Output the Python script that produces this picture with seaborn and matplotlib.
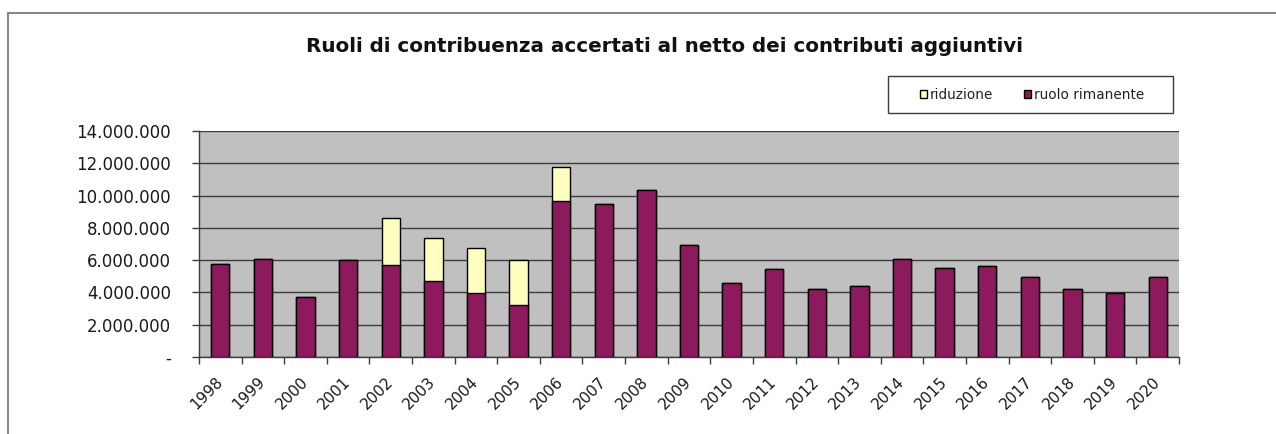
import numpy as np
import pandas as pd
import seaborn as sns
from matplotlib import pyplot as plt
from matplotlib.patches import Patch, Rectangle
from matplotlib.ticker import FuncFormatter, FixedLocator

# dati (euro)
anni = [str(a) for a in range(1998, 2021)]
ruolo_rimanente = [5760000, 6100000, 3690000, 5980000, 5710000, 4710000, 3960000, 3200000,
                   9650000, 9470000, 10370000, 6940000, 4570000, 5450000, 4200000, 4410000,
                   6040000, 5530000, 5630000, 4940000, 4200000, 3960000, 4940000]
riduzione = [0, 0, 0, 0, 2900000, 2680000, 2800000, 2820000,
             2110000, 0, 0, 0, 0, 0, 0, 0,
             0, 0, 0, 0, 0, 0, 0]

titolo = 'Ruoli di contribuenza accertati al netto dei contributi aggiuntivi'
etichette = ['riduzione', 'ruolo rimanente']

col_rid = '#FFFFC2'
col_ruolo = '#8C1A5C'

df = pd.DataFrame({'anno': anni, 'rimanente': ruolo_rimanente, 'riduzione': riduzione})
df['totale'] = df['rimanente'] + df['riduzione']

sns.set_style('white')
plt.rcParams['font.family'] = ['DejaVu Sans']

W, H = 1276, 434
fig = plt.figure(figsize=(W / 100, H / 100), dpi=100)
ax = fig.add_axes([199 / W, 1 - 357 / H, 980 / W, 226 / H])
ax.set_facecolor('#C0C0C0')

# barre sovrapposte: prima il totale, poi il ruolo rimanente
sns.barplot(data=df, x='anno', y='totale', color=col_rid, saturation=1,
            edgecolor='black', linewidth=1, width=0.43, ax=ax, zorder=3)
sns.barplot(data=df, x='anno', y='rimanente', color=col_ruolo, saturation=1,
            edgecolor='black', linewidth=1, width=0.43, ax=ax, zorder=4)

ax.set_ylim(0, 14000000)
ax.set_xlim(-0.5, len(anni) - 0.5)
ax.set_yticks(np.arange(0, 14000001, 2000000))
ax.yaxis.set_major_formatter(FuncFormatter(
    lambda v, p: '-' if v == 0 else f'{int(v):,}'.replace(',', '.')))
ax.grid(axis='y', color='#3c3c3c', linewidth=1.0, zorder=1)
ax.set_axisbelow(True)
ax.set_xlabel('')
ax.set_ylabel('')

for s in ['top', 'right']:
    ax.spines[s].set_visible(False)
for s in ['left', 'bottom']:
    ax.spines[s].set_color('#3c3c3c')
    ax.spines[s].set_linewidth(1.0)

ax.tick_params(axis='y', length=5, width=1, color='#3c3c3c', pad=15,
               labelsize=12, labelcolor='#1a1a1a', left=True)
ax.xaxis.set_minor_locator(FixedLocator(np.arange(-0.5, len(anni), 1)))
ax.tick_params(axis='x', which='minor', length=5, width=1, color='#3c3c3c', bottom=True)
ax.tick_params(axis='x', which='major', length=0, pad=16, labelsize=11, labelcolor='#1a1a1a')
plt.setp(ax.get_xticklabels(), rotation=45, ha='right', va='center', rotation_mode='anchor')

fig.text(665 / W, 1 - 47 / H, titolo, ha='center', va='center',
         fontsize=14.3, fontweight='bold', color='#111111')

# cornice del grafico
fig.patches.append(Rectangle((8 / W, -0.1), 1.2, 1 - 13 / H + 0.1, transform=fig.transFigure,
                             fill=False, edgecolor='#7a7a7a', linewidth=1.3))

# legenda con cornice
fig.patches.append(Rectangle((888 / W, 1 - 113 / H), 285 / W, 37 / H, transform=fig.transFigure,
                             facecolor='white', edgecolor='#3c3c3c', linewidth=1.0))
handles = [Patch(facecolor=col_rid, edgecolor='black', linewidth=1),
           Patch(facecolor=col_ruolo, edgecolor='black', linewidth=1)]
fig.legend(handles, etichette, loc='center', bbox_to_anchor=(1032 / W, 1 - 95 / H),
           ncol=2, frameon=False, fontsize=9.8, handlelength=0.55, handleheight=0.55,
           handletextpad=0.2, columnspacing=2.2, borderpad=0, labelcolor='#222222')

fig.savefig('out.png', dpi=100)
